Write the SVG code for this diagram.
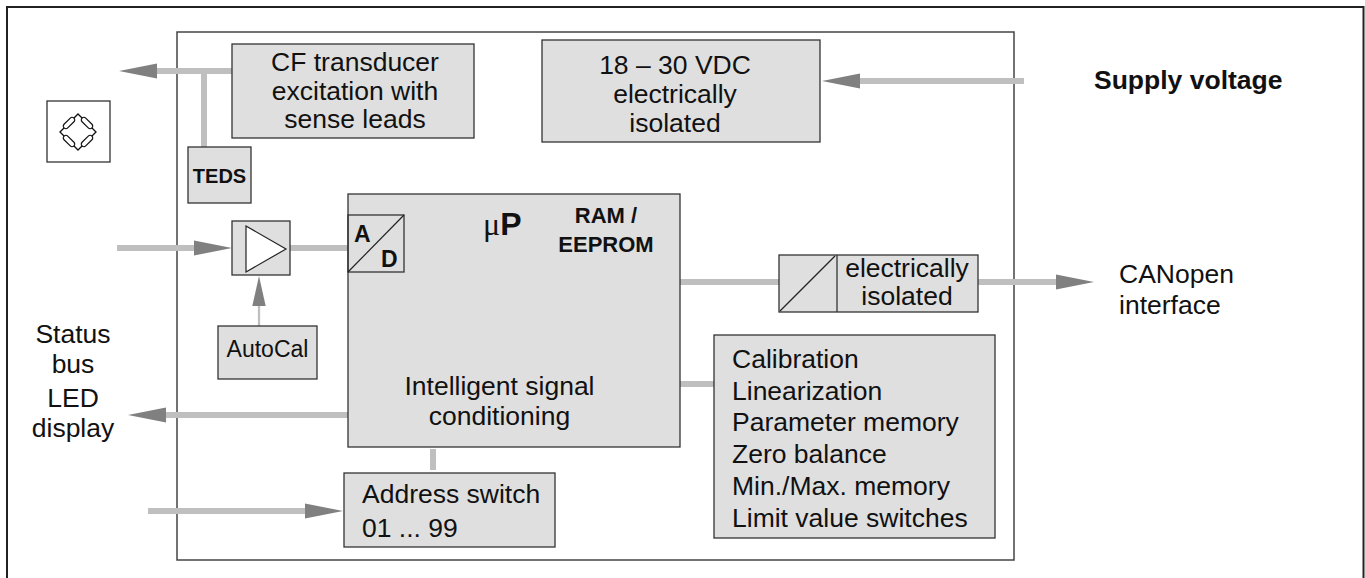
<svg xmlns="http://www.w3.org/2000/svg" width="1365" height="578" viewBox="0 0 1365 578">
<style>
text{font-family:"Liberation Sans",Arial,sans-serif;font-size:26.5px;fill:#111}
.b{font-weight:bold}
.box{fill:#dfdfdf;stroke:#333;stroke-width:1.3}
.c{stroke:#bfbfbf;stroke-width:6;fill:none}
.ct{stroke:#bfbfbf;stroke-width:2.3;fill:none}
.m{text-anchor:middle}
</style>
<defs>
<marker id="ah" markerUnits="userSpaceOnUse" markerWidth="40" markerHeight="16" refX="0" refY="8" orient="auto" overflow="visible">
<path d="M0,0.5 L38,8 L0,15.5 z" fill="#808080"/>
</marker>
<marker id="ahs" markerUnits="userSpaceOnUse" markerWidth="32" markerHeight="14" refX="0" refY="7" orient="auto" overflow="visible">
<path d="M0,0.3 L30,7 L0,13.7 z" fill="#808080"/>
</marker>
</defs>
<rect x="7" y="7" width="1356.5" height="600" fill="#fff" stroke="#222" stroke-width="2"/>
<rect id="module" x="177" y="32" width="837" height="528" fill="none" stroke="#444" stroke-width="1.5"/>

<g id="connectors">
<line class="c" x1="232" y1="71" x2="157" y2="71" marker-end="url(#ah)"/>
<line class="c" x1="204" y1="71" x2="204" y2="147"/>
<line class="c" x1="1024" y1="81" x2="860" y2="81" marker-end="url(#ah)"/>
<line class="c" x1="117" y1="248" x2="194" y2="248" marker-end="url(#ah)"/>
<line class="c" x1="290" y1="248" x2="348" y2="248"/>
<line class="ct" x1="259" y1="326" x2="259" y2="306" marker-end="url(#ahs)"/>
<line class="c" x1="680" y1="282" x2="779" y2="282"/>
<line class="c" x1="978" y1="282" x2="1056" y2="282" marker-end="url(#ah)"/>
<line class="c" x1="680" y1="384" x2="714" y2="384"/>
<line class="c" x1="348" y1="415" x2="166" y2="415" marker-end="url(#ah)"/>
<line class="c" x1="433" y1="449" x2="433" y2="470"/>
<line class="c" x1="148" y1="511" x2="305" y2="511" marker-end="url(#ah)"/>
</g>

<g id="bridge">
<rect x="47" y="101" width="63" height="61" fill="#fff" stroke="#333" stroke-width="1.3"/>
<g fill="none" stroke="#111" stroke-width="1.3">
<path d="M60,132 L78,114 L96,132 L78,150 Z"/>
</g>
<g fill="#fff" stroke="#111" stroke-width="1.2">
<rect x="-7" y="-2.6" width="14" height="5.2" rx="2.6" transform="translate(69,123) rotate(-45)"/>
<rect x="-7" y="-2.6" width="14" height="5.2" rx="2.6" transform="translate(87,123) rotate(45)"/>
<rect x="-7" y="-2.6" width="14" height="5.2" rx="2.6" transform="translate(87,141) rotate(-45)"/>
<rect x="-7" y="-2.6" width="14" height="5.2" rx="2.6" transform="translate(69,141) rotate(45)"/>
</g>
</g>

<g id="cf">
<rect class="box" x="232" y="44" width="242" height="94"/>
<text class="m" x="355" y="71">CF transducer</text>
<text class="m" x="355" y="100">excitation with</text>
<text class="m" x="355" y="128">sense leads</text>
</g>

<g id="teds">
<rect class="box" x="188" y="147" width="63" height="56"/>
<text class="m b" x="219.5" y="183" style="font-size:20px">TEDS</text>
</g>

<g id="supply">
<rect class="box" x="542" y="40" width="278" height="102"/>
<text class="m" x="675" y="74">18 – 30 VDC</text>
<text class="m" x="675" y="103">electrically</text>
<text class="m" x="675" y="132">isolated</text>
</g>

<text id="supply-label" class="b" x="1094" y="89">Supply voltage</text>

<g id="amp">
<rect class="box" x="232" y="221" width="58" height="54"/>
<path d="M246,226 L286,249 L246,272 Z" fill="#fff" stroke="#222" stroke-width="1.2"/>
</g>

<g id="autocal">
<rect class="box" x="218" y="326" width="99" height="53"/>
<text class="m" x="267.5" y="357" style="font-size:23px">AutoCal</text>
</g>

<g id="mp">
<rect class="box" x="348" y="194" width="332" height="253"/>
<rect x="348" y="215" width="56" height="57" fill="none" stroke="#333" stroke-width="1.3"/>
<line x1="348" y1="272" x2="404" y2="215" stroke="#222" stroke-width="1.2"/>
<text class="b" x="354" y="242" style="font-size:23px">A</text>
<text class="b" x="381" y="267" style="font-size:23px">D</text>
<text x="483" y="235" style="font-size:32px"><tspan style="font-family:'Liberation Serif',serif">μ</tspan><tspan style="font-weight:bold">P</tspan></text>
<text class="m b" x="606" y="223" style="font-size:22px">RAM /</text>
<text class="m b" x="606" y="252" style="font-size:22px">EEPROM</text>
<text class="m" x="499.5" y="395">Intelligent signal</text>
<text class="m" x="499.5" y="425">conditioning</text>
</g>

<g id="isolation">
<rect class="box" x="779" y="255" width="199" height="57"/>
<line x1="837" y1="255" x2="837" y2="312" stroke="#333" stroke-width="1.3"/>
<line x1="780" y1="311" x2="835" y2="256" stroke="#222" stroke-width="1.2"/>
<text class="m" x="907" y="277">electrically</text>
<text class="m" x="907" y="305">isolated</text>
</g>

<g id="canopen-label">
<text x="1119" y="283">CANopen</text>
<text x="1119" y="314">interface</text>
</g>

<g id="functions">
<rect class="box" x="714" y="335" width="281" height="203"/>
<text x="732" y="368">Calibration</text>
<text x="732" y="400">Linearization</text>
<text x="732" y="431">Parameter memory</text>
<text x="732" y="463">Zero balance</text>
<text x="732" y="495">Min./Max. memory</text>
<text x="732" y="527">Limit value switches</text>
</g>

<g id="status-label">
<text class="m" x="73" y="343">Status</text>
<text class="m" x="73" y="373">bus</text>
<text class="m" x="73" y="407">LED</text>
<text class="m" x="73" y="437">display</text>
</g>

<g id="address">
<rect class="box" x="344" y="473" width="211" height="74"/>
<text x="362" y="503">Address switch</text>
<text x="362" y="537">01 ... 99</text>
</g>
</svg>
